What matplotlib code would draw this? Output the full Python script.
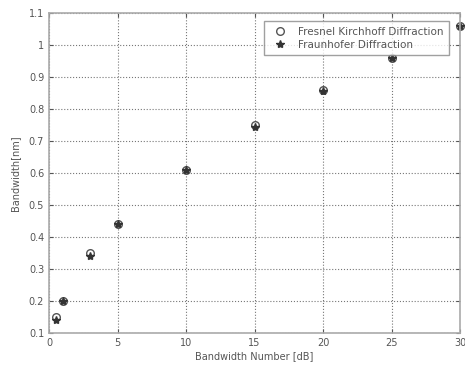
import matplotlib
matplotlib.use("Agg")
from matplotlib import pyplot as plt

x = [0.5, 1, 3, 5, 10, 15, 20, 25, 30]
fresnel = [0.15, 0.20, 0.35, 0.44, 0.61, 0.75, 0.86, 0.96, 1.06]
fraunhofer = [0.14, 0.20, 0.34, 0.44, 0.61, 0.745, 0.855, 0.96, 1.06]

xticks = [0, 5, 10, 15, 20, 25, 30]
yticks = [0.1, 0.2, 0.3, 0.4, 0.5, 0.6, 0.7, 0.8, 0.9, 1.0, 1.1]
ytick_labels = ["0.1", "0.2", "0.3", "0.4", "0.5", "0.6", "0.7", "0.8", "0.9", "1", "1.1"]

fig = plt.figure(figsize=(4.65, 3.69), dpi=100)
ax = fig.add_axes([49 / 465, 1 - 333 / 369, 411 / 465, 320 / 369])

ax.plot(x, fresnel, linestyle="none", marker="o", markersize=5.5,
        markerfacecolor="none", markeredgecolor="#555555", markeredgewidth=1.0,
        label="Fresnel Kirchhoff Diffraction", clip_on=False)
ax.plot(x, fraunhofer, linestyle="none", marker="*", markersize=6,
        color="#333333", label="Fraunhofer Diffraction", clip_on=False)

ax.set_xlim(0, 30)
ax.set_ylim(0.1, 1.1)
ax.set_xticks(xticks)
ax.set_yticks(yticks)
ax.set_yticklabels(ytick_labels)
ax.grid(True, linestyle=":", color="#777777", linewidth=0.8)
ax.tick_params(direction="in", labelsize=7, colors="#555555", length=3,
               top=True, right=True)
for s in ax.spines.values():
    s.set_color("#aaaaaa")
    s.set_linewidth(1.2)

ax.set_xlabel("Bandwidth Number [dB]", fontsize=7, color="#555555", labelpad=2)
ax.set_ylabel("Bandwidth[nm]", fontsize=7, color="#555555", labelpad=6)

leg = ax.legend(loc="upper right", fontsize=7.5, frameon=True, fancybox=False,
                borderpad=0.5, handletextpad=0.6, labelspacing=0.3,
                handlelength=2.2, bbox_to_anchor=(0.985, 0.99))
leg.get_frame().set_edgecolor("#888888")
leg.get_frame().set_linewidth(1.0)
for t in leg.get_texts():
    t.set_color("#555555")

fig.savefig("out.png", dpi=100)
